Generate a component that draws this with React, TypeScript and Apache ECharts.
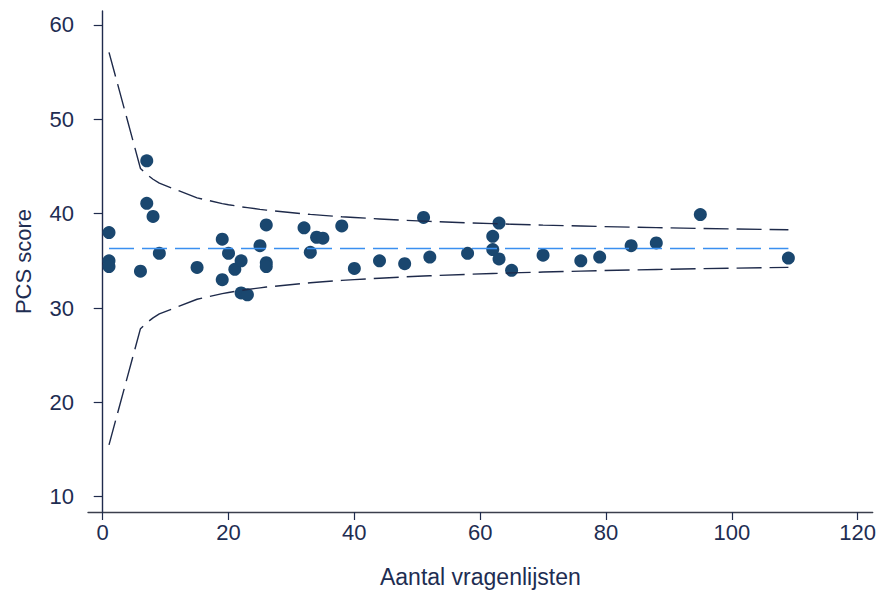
import React, { useEffect, useRef } from "react";
import * as echarts from "echarts";

// Observed points: number of questionnaires (x) and PCS score (y)
const nValues = [1, 1, 1, 6, 7, 7, 8, 9, 15, 19, 19, 20, 21, 22, 22, 23, 25, 26, 26, 26, 32, 33, 34, 35, 38, 40, 44, 48, 51, 52, 58, 62, 62, 63, 63, 65, 70, 76, 79, 84, 88, 95, 109];
const pcsScores = [38.0, 35.0, 34.4, 33.9, 45.6, 41.1, 39.7, 35.8, 34.3, 37.3, 33.0, 35.8, 34.1, 35.0, 31.6, 31.4, 36.6, 38.8, 34.8, 34.4, 38.5, 35.9, 37.5, 37.4, 38.7, 34.2, 35.0, 34.7, 39.6, 35.4, 35.8, 37.6, 36.2, 39.0, 35.2, 34.0, 35.6, 35.0, 35.4, 36.6, 36.9, 39.9, 35.3];

// Funnel (control limit) lines
const limitN = [1, 6, 7, 8, 9, 15, 19, 20, 21, 22, 23, 25, 26, 32, 33, 34, 35, 38, 40, 44, 48, 51, 52, 58, 62, 63, 65, 70, 76, 79, 84, 88, 95, 109];
const upperLimit = [57.1, 44.79, 44.16, 43.65, 43.23, 41.67, 41.07, 40.95, 40.84, 40.73, 40.64, 40.46, 40.38, 39.98, 39.92, 39.87, 39.82, 39.67, 39.59, 39.44, 39.30, 39.21, 39.18, 39.03, 38.94, 38.92, 38.88, 38.79, 38.69, 38.64, 38.57, 38.52, 38.43, 38.29];
const lowerLimit = [15.5, 27.81, 28.44, 28.95, 29.37, 30.93, 31.53, 31.65, 31.76, 31.87, 31.96, 32.14, 32.22, 32.62, 32.68, 32.73, 32.78, 32.93, 33.01, 33.16, 33.30, 33.39, 33.42, 33.57, 33.66, 33.68, 33.72, 33.81, 33.91, 33.96, 34.03, 34.08, 34.17, 34.31];

// Overall mean line
const meanN = [1, 109];
const meanValue = [36.3, 36.3];

const xTicks = [0, 20, 40, 60, 80, 100, 120];
const yTicks = [10, 20, 30, 40, 50, 60];

const FONT = "'Liberation Sans', Arial, Helvetica, sans-serif";
const TEXT = "#1e2d52";

export default function App() {
  const ref = useRef<HTMLDivElement>(null);

  useEffect(() => {
    document.body.style.margin = "0";
    if (!ref.current) return;
    const chart = echarts.init(ref.current, null, { renderer: "svg" });

    const pts = nValues.map((n, i) => [n, pcsScores[i]]);
    const up = limitN.map((n, i) => [n, upperLimit[i]]);
    const lo = limitN.map((n, i) => [n, lowerLimit[i]]);
    const mean = meanN.map((n, i) => [n, meanValue[i]]);

    chart.setOption({
      animation: false,
      backgroundColor: "#ffffff",
      textStyle: { fontFamily: FONT },
      grid: { left: 88, right: 6.3, top: 11, bottom: 86, containLabel: false },
      xAxis: {
        type: "value",
        min: -2.34,
        max: 122.4,
        name: "Aantal vragenlijsten",
        nameLocation: "middle",
        nameGap: 53,
        nameTextStyle: { fontSize: 23, color: TEXT, fontFamily: FONT },
        axisLine: { show: true, lineStyle: { color: "#3b3f4c", width: 1.4 } },
        axisTick: { show: true, length: 8, customValues: xTicks, lineStyle: { color: "#1f2b4d", width: 1.2 } },
        axisLabel: { customValues: xTicks, margin: 9, fontSize: 22, color: TEXT, fontFamily: FONT },
        splitLine: { show: false },
      },
      yAxis: {
        type: "value",
        min: 8.38,
        max: 61.48,
        name: "PCS score",
        nameLocation: "middle",
        nameGap: 54,
        nameRotate: 90,
        nameTextStyle: { fontSize: 22, color: TEXT, fontFamily: FONT },
        axisLine: { show: true, lineStyle: { color: "#1f2b4d", width: 1.4 } },
        axisTick: { show: true, length: 9, customValues: yTicks, lineStyle: { color: "#1f2b4d", width: 1.2 } },
        axisLabel: { customValues: yTicks, margin: 14, fontSize: 22, color: TEXT, fontFamily: FONT },
        splitLine: { show: false },
      },
      series: [
        {
          type: "scatter",
          data: pts,
          symbol: "circle",
          symbolSize: 13,
          itemStyle: { color: "#1a476f", opacity: 1 },
          z: 2,
        },
        {
          type: "line",
          data: up,
          showSymbol: false,
          symbol: "none",
          lineStyle: { color: "#1e2a4a", width: 1.4, type: [25, 8] },
          z: 3,
        },
        {
          type: "line",
          data: lo,
          showSymbol: false,
          symbol: "none",
          lineStyle: { color: "#1e2a4a", width: 1.4, type: [25, 8] },
          z: 3,
        },
        {
          type: "line",
          data: mean,
          showSymbol: false,
          symbol: "none",
          lineStyle: { color: "#3a8ff0", width: 1.4, type: [25, 8] },
          z: 4,
        },
      ],
    });

    return () => {
      chart.dispose();
    };
  }, []);

  return <div ref={ref} style={{ width: 879, height: 598 }} />;
}
